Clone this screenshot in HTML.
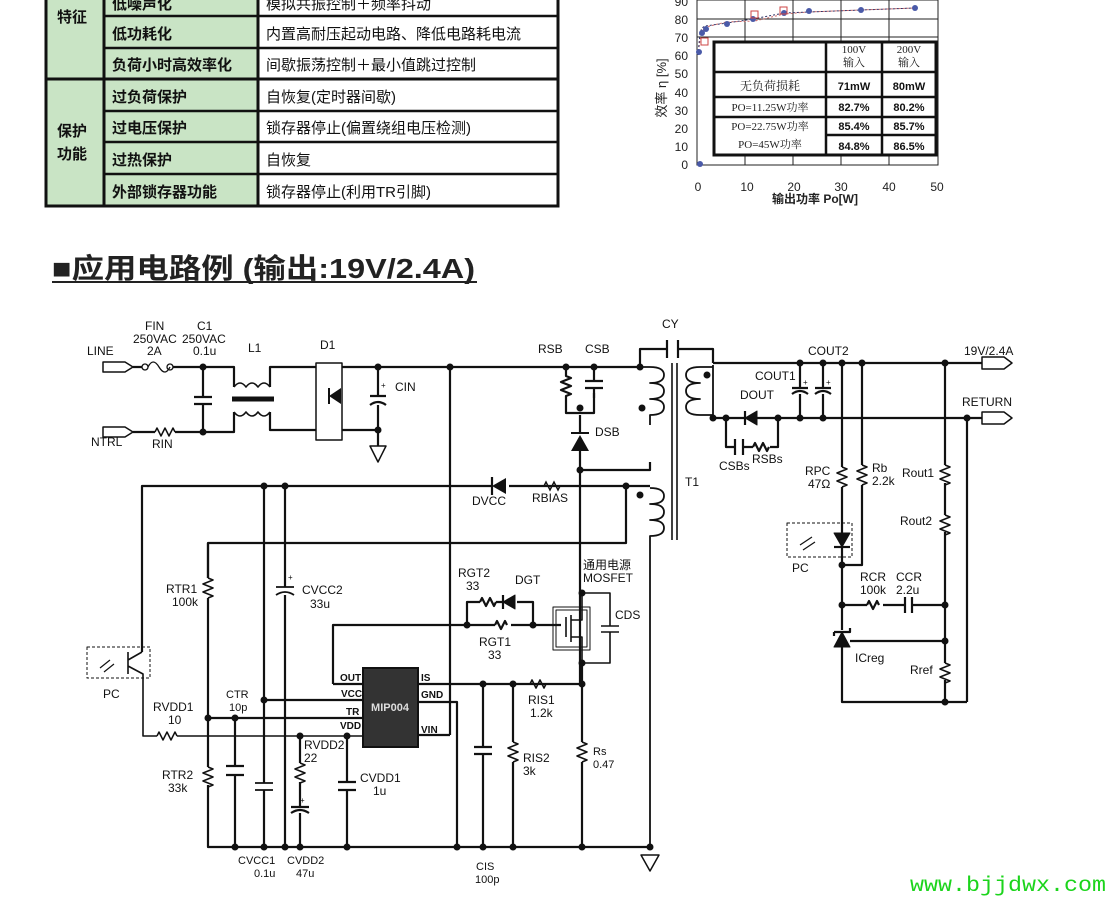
<!DOCTYPE html>
<html><head><meta charset="utf-8"><style>
body{margin:0;background:#fff;width:1112px;height:900px;overflow:hidden;position:relative;font-family:"Liberation Sans","Noto Sans CJK SC",sans-serif}
svg{position:absolute;left:0;top:0}
</style></head><body>
<svg width="1112" height="900" viewBox="0 0 1112 900" xmlns="http://www.w3.org/2000/svg" font-family="Liberation Sans, Noto Sans CJK SC, sans-serif">
<!-- TABLE -->
<rect x="46" y="-2" width="58" height="208" fill="#c9e4c5"/>
<rect x="104" y="-2" width="154" height="208" fill="#c9e4c5"/>
<rect x="258" y="-2" width="300" height="208" fill="#fff"/>
<g stroke="#111" fill="none">
<rect x="46" y="-4" width="512" height="210" stroke-width="3"/>
<line x1="104" y1="-4" x2="104" y2="206" stroke-width="3"/>
<line x1="258" y1="-4" x2="258" y2="206" stroke-width="3"/>
<line x1="46" y1="79" x2="558" y2="79" stroke-width="3"/>
<g stroke-width="2.5"><line x1="104" y1="16" x2="558" y2="16"/><line x1="104" y1="48" x2="558" y2="48"/><line x1="104" y1="111" x2="558" y2="111"/><line x1="104" y1="142" x2="558" y2="142"/><line x1="104" y1="174" x2="558" y2="174"/></g>
</g>
<g font-size="15" fill="#111">
<text x="57" y="22" font-weight="bold">特征</text>
<text x="57" y="136" font-weight="bold">保护</text><text x="57" y="159" font-weight="bold">功能</text>
<text x="112" y="9" font-weight="bold">低噪声化</text>
<text x="112" y="39" font-weight="bold">低功耗化</text>
<text x="112" y="70" font-weight="bold">负荷小时高效率化</text>
<text x="112" y="102" font-weight="bold">过负荷保护</text>
<text x="112" y="133" font-weight="bold">过电压保护</text>
<text x="112" y="165" font-weight="bold">过热保护</text>
<text x="112" y="197" font-weight="bold">外部锁存器功能</text>
<text x="266" y="9">模拟共振控制＋频率抖动</text>
<text x="266" y="39">内置高耐压起动电路、降低电路耗电流</text>
<text x="266" y="70">间歇振荡控制＋最小值跳过控制</text>
<text x="266" y="102">自恢复(定时器间歇)</text>
<text x="266" y="133">锁存器停止(偏置绕组电压检测)</text>
<text x="266" y="165">自恢复</text>
<text x="266" y="197">锁存器停止(利用TR引脚)</text>
</g>
<!-- CHART -->
<g stroke="#222" stroke-width="1" fill="none">
<rect x="697" y="0" width="241" height="165"/>
<line x1="745" y1="0" x2="745" y2="165"/><line x1="793" y1="0" x2="793" y2="165"/><line x1="841" y1="0" x2="841" y2="165"/><line x1="889" y1="0" x2="889" y2="165"/>
<line x1="697" y1="19" x2="938" y2="19"/><line x1="697" y1="37" x2="938" y2="37"/>
</g>
<polyline points="698,55 700,40 703,30 706,27 726,22 755,21 784,14 808,12 860,10 915,8" fill="none" stroke="#c66" stroke-dasharray="2,2"/>
<polyline points="698,55 700,33 702,28 705,26 727,23 753,19 784,13 809,12 861,10 915,8" fill="none" stroke="#336" stroke-dasharray="2,2"/>
<g fill="#4a5aa8"><circle cx="702" cy="33" r="3"/><circle cx="706" cy="29" r="3"/><circle cx="727" cy="24" r="3"/><circle cx="753" cy="19" r="3"/><circle cx="784" cy="13" r="3"/><circle cx="809" cy="11" r="3"/><circle cx="861" cy="10" r="3"/><circle cx="915" cy="8" r="3"/><circle cx="700" cy="164" r="3"/><circle cx="699" cy="52" r="3"/></g>
<g fill="none" stroke="#c44"><rect x="701" y="38" width="7" height="7"/><rect x="751" y="11" width="7" height="7"/><rect x="780" y="7" width="7" height="7"/></g>
<rect x="714" y="42" width="222" height="113" fill="#fff" stroke="#111" stroke-width="3"/>
<g stroke="#111" stroke-width="2.5"><line x1="826" y1="42" x2="826" y2="155"/><line x1="882" y1="42" x2="882" y2="155"/><line x1="714" y1="72" x2="936" y2="72"/><line x1="714" y1="97" x2="936" y2="97"/><line x1="714" y1="117" x2="936" y2="117"/><line x1="826" y1="135" x2="936" y2="135"/></g>
<g font-size="11" fill="#222" text-anchor="middle" font-family="Liberation Serif, Noto Serif CJK SC, serif">
<text x="854" y="53">100V</text><text x="854" y="66">输入</text><text x="909" y="53">200V</text><text x="909" y="66">输入</text>
<text x="770" y="90" font-size="12">无负荷损耗</text>
<text x="770" y="111">PO=11.25W功率</text><text x="770" y="130">PO=22.75W功率</text><text x="770" y="148">PO=45W功率</text>
</g>
<g font-size="11" font-weight="bold" fill="#111" text-anchor="middle">
<text x="854" y="90">71mW</text><text x="909" y="90">80mW</text>
<text x="854" y="111">82.7%</text><text x="909" y="111">80.2%</text>
<text x="854" y="130">85.4%</text><text x="909" y="130">85.7%</text>
<text x="854" y="150">84.8%</text><text x="909" y="150">86.5%</text>
</g>
<g font-size="12" fill="#222" text-anchor="end">
<text x="688" y="6">90</text><text x="688" y="24">80</text><text x="688" y="42">70</text><text x="688" y="60">60</text><text x="688" y="78">50</text><text x="688" y="97">40</text><text x="688" y="115">30</text><text x="688" y="133">20</text><text x="688" y="151">10</text><text x="688" y="169">0</text>
</g>
<g font-size="12" fill="#222" text-anchor="middle">
<text x="698" y="191">0</text><text x="747" y="191">10</text><text x="794" y="191">20</text><text x="841" y="191">30</text><text x="889" y="191">40</text><text x="937" y="191">50</text>
<text x="815" y="203" font-weight="bold">输出功率 Po[W]</text>
</g>
<text transform="translate(666,88) rotate(-90)" font-size="13" fill="#222" text-anchor="middle">效率 η [%]</text>
<!-- HEADING -->
<text x="52" y="278" font-size="28" font-weight="bold" fill="#222" textLength="423" lengthAdjust="spacingAndGlyphs">■应用电路例 (输出:19V/2.4A)</text>
<line x1="52" y1="282" x2="477" y2="282" stroke="#222" stroke-width="2"/>

<!-- CIRCUIT -->
<g stroke="#111" stroke-width="2.2" fill="none" stroke-linejoin="round">
<path d="M103 362 h22 l8 5 l-8 5 h-22z" stroke-width="1.5"/>
<path d="M103 427 h22 l8 5 l-8 5 h-22z" stroke-width="1.5"/>
<path d="M133 367 h9 M173 367 h61 v20 M133 432 h22 M175 432 h59 v-20"/>
<circle cx="145" cy="367" r="3" stroke-width="1.3"/><circle cx="170" cy="367" r="3" stroke-width="1.3"/>
<path d="M148 367 q5 -10 11 0 t11 0" stroke-width="1.3"/>
<path d="M155 432 l2 -4 l4 8 l4 -8 l4 8 l4 -8 l2 4" stroke-width="1.5"/>
<path d="M203 367 v30 M194 397 h18 M194 404 h18 M203 404 v28"/>
<path d="M234 387 q6 -8 12 0 q6 -8 12 0 q6 -8 12 0 M234 412 q6 8 12 0 q6 8 12 0 q6 8 12 0" stroke-width="1.6"/>
<line x1="232" y1="399" x2="274" y2="399" stroke-width="5"/>
<path d="M270 387 v-20 h46 M270 412 v18 h46"/>
<rect x="316" y="363" width="26" height="77" stroke-width="1.5"/>
<path d="M342 367 h300 M342 430 h36 M378 367 v29 M370 396 h16 M370 405 q8 -6 16 0 M378 405 v25 v16" />
<path d="M370 446 h16 l-8 16z" stroke-width="1.5"/>
<line x1="450" y1="367" x2="450" y2="735"/>
<path d="M566 367 v9 l5 2 l-10 4 l10 4 l-10 4 l10 4 l-5 2 v17 h28 v-20 M594 367 v14 M585 381 h18 M585 388 h18"/>
<path d="M594 388 v10"/>
<path d="M580 415 v18 M580 451 v35 v196"/>
<path d="M580 470 h70 v-8"/>
<path d="M142 652 v-166 h484 M626 486 v57 h-418 v35" />
<path d="M626 486 h24"/>
<path d="M208 598 v120 v49 M208 785 v62 h442"/>
<path d="M264 486 v297 M264 790 v57 M285 486 v101 M285 595 v252"/>
<path d="M276 587 h18 M276 595 q9 -6 18 0" stroke-width="1.8"/>
<path d="M255 783 h18 M255 790 h18" stroke-width="1.8"/>
<path d="M208 578 l5 2 l-10 4 l10 4 l-10 4 l10 4 l-5 2 M208 767 l5 2 l-10 4 l10 4 l-10 4 l10 4 l-5 2 M300 763 l5 2 l-10 4 l10 4 l-10 4 l10 4 l-5 2" stroke-width="1.6"/>
<path d="M208 543 v35"/>
<rect x="87" y="647" width="63" height="31" stroke-width="1" stroke-dasharray="3,2"/>
<path d="M128 652 v22 M128 660 l14 -8 M128 666 l15 8 v10 v52 h14 M177 736 h186" stroke-width="1.6"/>
<path d="M157 736 l2 -4 l4 8 l4 -8 l4 8 l4 -8 l2 4" stroke-width="1.5"/>
<path d="M100 668 l10 -8 M104 672 l10 -8" stroke-width="1.2"/>
<path d="M208 718 h155 M264 700 h99 M235 718 v48 M235 775 v72 M226 766 h18 M226 775 h18"/>
<path d="M300 736 v27 M300 782 v25 M291 807 h18 M291 813 q9 -6 18 0 M300 813 v34 M347 736 v46 M347 790 v57 M338 782 h18 M338 790 h18"/>
<path d="M333 684 v-59 h134 M333 684 h30"/>
<path d="M418 684 h164 M418 702 h39 v145 M418 735 h32"/>
<path d="M467 625 v-23 h13 M480 602 l2 -4 l4 8 l4 -8 l4 8 l2 -4 M496 602 h7 M517 602 h16 v23 M467 625 h28 M495 625 l2 -4 l4 8 l4 -8 l2 4 M511 625 h50"/>
<path d="M503 602 l12 -7 v14z" fill="#111" stroke-width="1"/><path d="M503 595 v14" />
<rect x="553" y="607" width="37" height="43" stroke-width="1"/><rect x="556" y="610" width="31" height="37" stroke-width="1"/>
<path d="M566 617 v20 M571 615 v27 M571 620 h11 v-27 M571 637 h11 v26 M582 593 h28 v33 M601 626 h18 M601 632 h18 M610 632 v31 h-28" stroke-width="1.6"/>
<path d="M582 663 v21 v58 M582 762 v85 M483 684 v63 M474 747 h18 M474 754 h18 M483 754 v93 M513 684 v58 M513 762 v85"/>
<path d="M530 684 l2 -4 l4 8 l4 -8 l4 8 l2 -4 M513 742 l5 2 l-10 4 l10 4 l-10 4 l10 4 l-5 2 M582 742 l5 2 l-10 4 l10 4 l-10 4 l10 4 l-5 2" stroke-width="1.6"/>
<path d="M640 367 v-18 h27 M678 349 h35 v14 M667 340 v18 M678 340 v18" />
<path d="M642 367 h8 q14 0 14 8 q0 8 -14 8 q14 0 14 8 q0 8 -14 8 q14 0 14 8 q0 8 -14 8 v10" stroke-width="1.8"/>
<path d="M650 488 q14 0 14 8 q0 8 -14 8 q14 0 14 8 q0 8 -14 8 q14 0 14 8 q0 8 -14 8 v310" stroke-width="1.8"/>
<path d="M641 855 h18 l-9 16z" stroke-width="1.5"/>
<line x1="672" y1="363" x2="672" y2="540" stroke-width="1.6"/><line x1="677" y1="363" x2="677" y2="540" stroke-width="1.6"/>
<path d="M713 367 h-13 q-14 0 -14 8 q0 8 14 8 q-14 0 -14 8 q0 8 14 8 q-14 0 -14 8 q0 8 14 8 h13 v-50" stroke-width="1.8"/>
<path d="M713 363 h269 M713 418 h32 M757 418 h225"/>
<path d="M745 418 l12 -7 v14z" fill="#111" stroke-width="1"/><path d="M745 411 v14"/>
<path d="M726 418 v29 h9 M743 447 h10 M753 447 l2 -4 l4 8 l4 -8 l4 8 l2 -4 M770 447 h8 v-29 M735 439 v16 M743 439 v16"/>
<path d="M800 363 v25 M792 388 h16 M792 394 q8 -6 16 0 M800 394 v24 M823 363 v25 M815 388 h16 M815 394 q8 -6 16 0 M823 394 v24"/>
<path d="M842 363 v104 M842 487 v46 M842 548 v57 v25 M842 647 v55 h125 M862 363 v102 M862 485 v80 h-20 M945 363 v102 M945 483 v32 M945 532 v131 M945 680 v22 M967 418 v284"/>
<path d="M842 467 l5 2 l-10 4 l10 4 l-10 4 l10 4 l-5 2 M862 465 l5 2 l-10 4 l10 4 l-10 4 l10 4 l-5 2 M945 465 l5 2 l-10 4 l10 4 l-10 4 l10 4 l-5 2 M945 515 l5 2 l-10 4 l10 4 l-10 4 l10 4 l-5 2 M945 663 l5 2 l-10 4 l10 4 l-10 4 l10 4 l-5 2" stroke-width="1.6"/>
<rect x="787" y="523" width="65" height="34" stroke-width="1" stroke-dasharray="3,2"/>
<path d="M834 533 h16 l-8 14z" fill="#111" stroke-width="1"/><path d="M834 547 h16"/>
<path d="M800 545 l12 -8 M803 550 l12 -8" stroke-width="1.2"/>
<path d="M842 605 h25 M867 605 l2 -4 l4 8 l4 -8 l2 4 M883 605 h22 M905 597 v16 M912 597 v16 M912 605 h33"/>
<path d="M834 647 h16 l-8 -15z" fill="#111" stroke-width="1"/><path d="M834 632 h16 v-4 M834 632 v4"/>
<path d="M850 641 h95"/>
<path d="M982 357 h22 l8 6 l-8 6 h-22z" stroke-width="1.5"/>
<path d="M982 412 h22 l8 6 l-8 6 h-22z" stroke-width="1.5"/>
</g>
<rect x="363" y="668" width="55" height="79" fill="#333" stroke="#111" stroke-width="2"/>
<text x="390" y="711" font-size="11" font-weight="bold" fill="#ddd" text-anchor="middle">MIP004</text>
<g fill="#111">
<circle cx="203" cy="367" r="3.5"/><circle cx="203" cy="432" r="3.5"/><circle cx="378" cy="367" r="3.5"/><circle cx="378" cy="430" r="3.5"/><circle cx="450" cy="367" r="3.5"/>
<circle cx="566" cy="367" r="3.5"/><circle cx="594" cy="367" r="3.5"/><circle cx="580" cy="408" r="3.5"/><circle cx="580" cy="470" r="3.5"/><circle cx="640" cy="367" r="3.5"/><circle cx="642" cy="408" r="3.5"/>
<circle cx="626" cy="486" r="3.5"/><circle cx="640" cy="495" r="3.5"/><circle cx="264" cy="486" r="3.5"/><circle cx="285" cy="486" r="3.5"/>
<circle cx="208" cy="718" r="3.5"/><circle cx="235" cy="718" r="3.5"/><circle cx="264" cy="700" r="3.5"/><circle cx="300" cy="736" r="3.5"/><circle cx="347" cy="736" r="3.5"/>
<circle cx="235" cy="847" r="3.5"/><circle cx="264" cy="847" r="3.5"/><circle cx="285" cy="847" r="3.5"/><circle cx="300" cy="847" r="3.5"/><circle cx="347" cy="847" r="3.5"/><circle cx="457" cy="847" r="3.5"/><circle cx="483" cy="847" r="3.5"/><circle cx="513" cy="847" r="3.5"/><circle cx="582" cy="847" r="3.5"/><circle cx="650" cy="847" r="3.5"/>
<circle cx="467" cy="625" r="3.5"/><circle cx="533" cy="625" r="3.5"/><circle cx="582" cy="593" r="3.5"/><circle cx="582" cy="663" r="3.5"/><circle cx="483" cy="684" r="3.5"/><circle cx="513" cy="684" r="3.5"/><circle cx="582" cy="684" r="3.5"/>
<circle cx="707" cy="375" r="3.5"/><circle cx="713" cy="418" r="3.5"/><circle cx="726" cy="418" r="3.5"/><circle cx="778" cy="418" r="3.5"/><circle cx="800" cy="363" r="3.5"/><circle cx="823" cy="363" r="3.5"/><circle cx="800" cy="418" r="3.5"/><circle cx="823" cy="418" r="3.5"/><circle cx="842" cy="363" r="3.5"/><circle cx="862" cy="363" r="3.5"/><circle cx="945" cy="363" r="3.5"/><circle cx="967" cy="418" r="3.5"/>
<circle cx="842" cy="565" r="3.5"/><circle cx="842" cy="605" r="3.5"/><circle cx="945" cy="605" r="3.5"/><circle cx="945" cy="641" r="3.5"/><circle cx="945" cy="702" r="3.5"/>
</g>
<path d="M571 451 h18 l-9 -16z" fill="#111"/><path d="M571 433 h18" stroke="#111" stroke-width="2"/>
<path d="M329 396 l12 -8 v16z" fill="#111"/><path d="M329 388 v16" stroke="#111" stroke-width="2"/>
<!-- DVCC diode pointing left -->
<rect x="491" y="480" width="18" height="12" fill="#fff"/>
<path d="M492 486 l14 -8 v16z" fill="#111"/><path d="M492 477 v18" stroke="#111" stroke-width="2.2"/>
<path d="M544 486 l2 -4 l4 8 l4 -8 l4 8 l2 -4" fill="none" stroke="#111" stroke-width="1.5"/>
<g font-size="12" fill="#111">
<text x="87" y="355">LINE</text><text x="91" y="446">NTRL</text><text x="152" y="448">RIN</text>
<text x="145" y="330">FIN</text><text x="133" y="343">250VAC</text><text x="147" y="355">2A</text>
<text x="197" y="330">C1</text><text x="182" y="343">250VAC</text><text x="193" y="355">0.1u</text>
<text x="248" y="352">L1</text><text x="320" y="349">D1</text><text x="395" y="391">CIN</text><text x="381" y="388" font-size="8">+</text>
<text x="538" y="353">RSB</text><text x="585" y="353">CSB</text><text x="595" y="436">DSB</text>
<text x="472" y="505">DVCC</text><text x="532" y="502">RBIAS</text>
<text x="662" y="328">CY</text><text x="808" y="355">COUT2</text><text x="755" y="380">COUT1</text><text x="740" y="399">DOUT</text>
<text x="719" y="470">CSBs</text><text x="752" y="463">RSBs</text><text x="685" y="486">T1</text>
<text x="964" y="355">19V/2.4A</text><text x="962" y="406">RETURN</text>
<text x="805" y="475">RPC</text><text x="808" y="488">47Ω</text><text x="872" y="472">Rb</text><text x="872" y="485">2.2k</text>
<text x="902" y="477">Rout1</text><text x="900" y="525">Rout2</text><text x="792" y="572">PC</text>
<text x="860" y="581">RCR</text><text x="860" y="594">100k</text><text x="896" y="581">CCR</text><text x="896" y="594">2.2u</text>
<text x="855" y="662">ICreg</text><text x="910" y="674">Rref</text>
<text x="458" y="577">RGT2</text><text x="466" y="590">33</text><text x="515" y="584">DGT</text>
<text x="583" y="569">通用电源</text><text x="583" y="582">MOSFET</text><text x="615" y="619">CDS</text>
<text x="479" y="646">RGT1</text><text x="488" y="659">33</text>
<text x="528" y="704">RIS1</text><text x="530" y="717">1.2k</text><text x="523" y="762">RIS2</text><text x="523" y="775">3k</text>
<text x="593" y="755" font-size="11">Rs</text><text x="593" y="768" font-size="11">0.47</text>
<text x="476" y="870" font-size="11">CIS</text><text x="475" y="883" font-size="11">100p</text>
<text x="360" y="782">CVDD1</text><text x="373" y="795">1u</text>
<text x="166" y="593">RTR1</text><text x="172" y="606">100k</text><text x="302" y="594">CVCC2</text><text x="310" y="608">33u</text><text x="288" y="580" font-size="8">+</text>
<text x="103" y="698">PC</text><text x="226" y="698" font-size="11">CTR</text><text x="229" y="711" font-size="11">10p</text>
<text x="153" y="711">RVDD1</text><text x="168" y="724">10</text>
<text x="304" y="749">RVDD2</text><text x="304" y="762">22</text><text x="300" y="803" font-size="8">+</text>
<text x="162" y="779">RTR2</text><text x="168" y="792">33k</text>
<text x="238" y="864" font-size="11">CVCC1</text><text x="254" y="877" font-size="11">0.1u</text><text x="287" y="864" font-size="11">CVDD2</text><text x="296" y="877" font-size="11">47u</text>
<text x="803" y="385" font-size="8">+</text><text x="826" y="385" font-size="8">+</text>
</g>
<g font-size="10" font-weight="bold" fill="#111">
<text x="340" y="681">OUT</text><text x="341" y="697">VCC</text><text x="346" y="715">TR</text><text x="340" y="729">VDD</text>
<text x="421" y="681">IS</text><text x="421" y="698">GND</text><text x="421" y="733">VIN</text>
</g>
<text x="910" y="891" font-size="21" fill="#1bd41b" font-family="Liberation Mono, monospace" textLength="196" lengthAdjust="spacingAndGlyphs">www.bjjdwx.com</text>
</svg>
</body></html>
